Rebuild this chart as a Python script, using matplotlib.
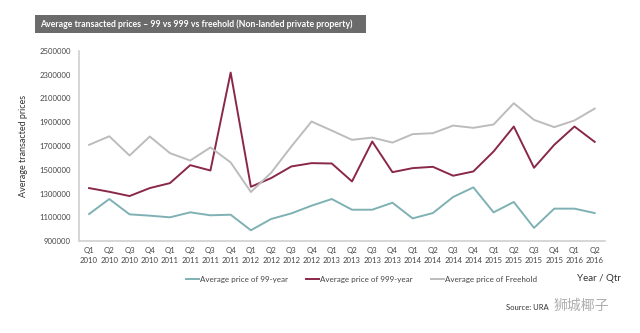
import matplotlib.pyplot as plt
from matplotlib.patches import Rectangle

# data
quarters = ['Q1\n2010', 'Q2\n2010', 'Q3\n2010', 'Q4\n2010',
            'Q1\n2011', 'Q2\n2011', 'Q3\n2011', 'Q4\n2011',
            'Q1\n2012', 'Q2\n2012', 'Q3\n2012', 'Q4\n2012',
            'Q1\n2013', 'Q2\n2013', 'Q3\n2013', 'Q4\n2013',
            'Q1\n2014', 'Q2\n2014', 'Q3\n2014', 'Q4\n2014',
            'Q1\n2015', 'Q2\n2015', 'Q3\n2015', 'Q4\n2015',
            'Q1\n2016', 'Q2\n2016']
price_99 = [1128000, 1254000, 1125000, 1114000, 1100000, 1142000, 1117000, 1122000,
            991000, 1086000, 1133000, 1198000, 1254000, 1164000, 1164000, 1223000,
            1091000, 1136000, 1271000, 1352000, 1142000, 1229000, 1011000, 1173000,
            1173000, 1136000]
price_999 = [1346000, 1315000, 1279000, 1346000, 1388000, 1539000, 1494000, 2318000,
             1357000, 1430000, 1528000, 1556000, 1553000, 1402000, 1738000, 1480000,
             1514000, 1525000, 1450000, 1486000, 1654000, 1864000, 1517000, 1710000,
             1864000, 1735000]
price_free = [1710000, 1782000, 1620000, 1780000, 1640000, 1578000, 1688000, 1562000,
              1313000, 1475000, 1696000, 1906000, 1830000, 1752000, 1771000, 1729000,
              1800000, 1808000, 1872000, 1853000, 1881000, 2060000, 1920000, 1859000,
              1915000, 2015000]
y_ticks = list(range(900000, 2500001, 200000))

plt.rcParams['font.family'] = ['Lato', 'DejaVu Sans']

fig = plt.figure(figsize=(6.4, 3.33), dpi=100)
ax = fig.add_axes([0.1234, 0.276, 0.8216, 0.571])

x = list(range(len(quarters)))
c99, c999, cfree = '#7fb1b4', '#8a2847', '#bcbcbc'
ax.plot(x, price_99, color=c99, lw=1.4, label='Average price of 99-year')
ax.plot(x, price_999, color=c999, lw=1.4, label='Average price of 999-year')
ax.plot(x, price_free, color=cfree, lw=1.4, label='Average price of Freehold')

ax.set_xlim(-0.5, len(quarters) - 0.5)
ax.set_ylim(900000, 2500000)
ax.set_yticks(y_ticks)
ax.set_yticklabels([str(v) for v in y_ticks])
ax.set_xticks(x)
ax.set_xticklabels(quarters, linespacing=1.5)
ax.tick_params(axis='both', length=0, labelsize=5.6, colors='#444444', pad=4)
ax.tick_params(axis='y', pad=6)

for s in ['top', 'right']:
    ax.spines[s].set_visible(False)
ax.spines['left'].set_color('#d0d0d0')
ax.spines['bottom'].set_color('#d0d0d0')
ax.spines['left'].set_linewidth(1.2)
ax.spines['bottom'].set_linewidth(1.2)

ax.set_ylabel('Average transacted prices', fontsize=6.5, color='#333333', labelpad=8)

fig.legend(loc='center', bbox_to_anchor=(0.565, 0.162), ncol=3, frameon=False,
           fontsize=5.8, handlelength=1.6, handletextpad=0.1, columnspacing=2.3,
           labelcolor='#444444')

fig.text(0.902, 0.163, 'Year / Qtr', fontsize=7, color='#333333', ha='left', va='center')

# title bar
fig.patches.append(Rectangle((0.055, 0.9), 0.517, 0.055, transform=fig.transFigure,
                             facecolor='#6b6b6b', edgecolor='none'))
fig.text(0.062, 0.927, 'Average transacted prices \u2013 99 vs 999 vs freehold (Non-landed private property)',
         fontsize=6.3, fontweight='bold', color='white', ha='left', va='center')

fig.text(0.79, 0.078, 'Source: URA', fontsize=5.5, color='#333333', ha='left', va='center')
fig.text(0.865, 0.082, '狮城椰子', fontsize=10, color='#9a9a9a', ha='left', va='center',
         family=['Noto Sans CJK SC', 'DejaVu Sans'], alpha=0.8)

fig.savefig('out.png', dpi=100, facecolor='white')
